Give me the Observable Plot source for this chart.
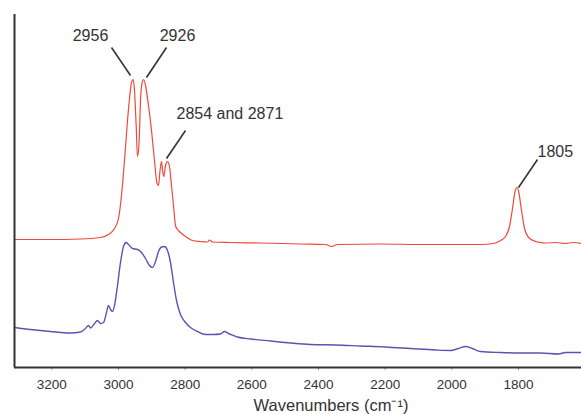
<!DOCTYPE html>
<html><head><meta charset="utf-8">
<script src="https://cdn.jsdelivr.net/npm/d3@7"></script>
<script src="https://cdn.jsdelivr.net/npm/@observablehq/plot@0.6"></script>
<style>body{margin:0;background:#fff}</style>
</head><body><div id="chart"></div>
<script>
// Red spectrum (upper)
const redWave = [3312,3204,3114,3054,3030,3012,3000,2991,2982,2973,2966,2961,2956,2952,2947,2943,2938,2934,2929,2925,2919,2910,2901,2892,2885,2880,2876,2871,2867,2864,2859,2853,2847,2841,2835,2829,2823,2814,2799,2778,2754,2733,2727,2718,2664,2574,2454,2379,2361,2343,2214,2094,1914,1875,1854,1839,1827,1818,1811,1805,1799,1791,1782,1770,1749,1719,1689,1659,1638,1611];
const redAbs  = [1.28,1.28,1.285,1.30,1.33,1.39,1.49,1.72,2.07,2.47,2.72,2.85,2.88,2.77,2.42,2.11,2.27,2.67,2.85,2.88,2.82,2.62,2.37,2.07,1.85,1.82,1.95,2.06,1.95,1.91,2.02,2.06,2.01,1.82,1.62,1.42,1.38,1.35,1.31,1.27,1.26,1.255,1.275,1.255,1.25,1.245,1.235,1.23,1.21,1.23,1.235,1.23,1.23,1.24,1.27,1.31,1.41,1.59,1.75,1.80,1.75,1.57,1.39,1.30,1.26,1.245,1.25,1.24,1.25,1.24];
// Blue spectrum (lower)
const blueWave = [3312,3264,3204,3144,3114,3099,3090,3084,3072,3063,3054,3045,3036,3030,3024,3018,3012,3003,2994,2985,2977,2970,2958,2943,2931,2919,2907,2898,2889,2880,2871,2862,2853,2844,2835,2826,2814,2799,2784,2763,2739,2715,2694,2682,2670,2655,2643,2604,2544,2484,2424,2349,2274,2199,2124,2049,2004,1980,1959,1938,1914,1854,1794,1734,1680,1659,1611];
const blueAbs  = [0.40,0.38,0.36,0.345,0.355,0.39,0.42,0.395,0.44,0.47,0.44,0.45,0.55,0.62,0.58,0.56,0.62,0.82,1.05,1.21,1.25,1.23,1.19,1.18,1.15,1.09,1.02,1.00,1.06,1.16,1.205,1.21,1.17,1.05,0.85,0.67,0.53,0.45,0.40,0.36,0.33,0.33,0.335,0.36,0.34,0.32,0.305,0.285,0.265,0.245,0.23,0.225,0.215,0.205,0.19,0.175,0.17,0.19,0.21,0.19,0.16,0.15,0.145,0.145,0.135,0.15,0.15];
// Axis ticks
const xTicks = [3200,3000,2800,2600,2400,2200,2000,1800];
// Annotations
const annLabels = ["2956","2926","2854 and 2871","1805"];
const annTextW  = [3084,2823,2826,1743];
const annTextA  = [3.32,3.32,2.54,2.16];
const annAnchor = ["middle","middle","start","start"];
const annW1 = [3021,2856,2799,1743];
const annA1 = [3.20,3.20,2.37,2.08];
const annW2 = [2964,2916,2856,1800];
const annA2 = [2.92,2.90,2.09,1.80];

const red = redWave.map((w,i)=>({w, a: redAbs[i]}));
const blue = blueWave.map((w,i)=>({w, a: blueAbs[i]}));
const ann = annLabels.map((t,i)=>({t, w: annTextW[i], a: annTextA[i], anchor: annAnchor[i], w1: annW1[i], a1: annA1[i], w2: annW2[i], a2: annA2[i]}));

const plot = Plot.plot({
  width: 581, height: 414,
  marginLeft: 14, marginRight: 0, marginTop: 14, marginBottom: 47,
  style: {fontFamily: "'Liberation Sans', Arial, sans-serif", color: "#333", background: "#fff"},
  x: {domain: [3312, 1611]},
  y: {domain: [0, 3.53], axis: null},
  marks: [
    Plot.axisX({ticks: xTicks, tickFormat: "d", tickSize: 3, tickPadding: 9, fontSize: 13.5, label: null, stroke: "#999", fill: "#333"}),
    Plot.line(blue, {x: "w", y: "a", stroke: "#5656b2", strokeWidth: 1.4, curve: "monotone-x"}),
    Plot.line(red, {x: "w", y: "a", stroke: "#f0483a", strokeWidth: 1.2, curve: "monotone-x"}),
    Plot.link(ann, {x1: "w1", y1: "a1", x2: "w2", y2: "a2", stroke: "#333", strokeWidth: 1.6}),
    Plot.text(ann.filter(d=>d.anchor==="middle"), {x: "w", y: "a", text: "t", textAnchor: "middle", fontSize: 16, fill: "#333"}),
    Plot.text(ann.filter(d=>d.anchor==="start"), {x: "w", y: "a", text: "t", textAnchor: "start", fontSize: 16, fill: "#333"}),
    Plot.ruleX([3312], {stroke: "#333", strokeWidth: 2}),
    Plot.ruleY([0], {stroke: "#333", strokeWidth: 2}),
    Plot.text(["Wavenumbers (cm⁻¹)"], {frameAnchor: "bottom", lineAnchor: "middle", dx: 33, dy: 38, fontSize: 16.5, fill: "#333"})
  ]
});
document.getElementById("chart").appendChild(plot);
</script>
</body></html>
